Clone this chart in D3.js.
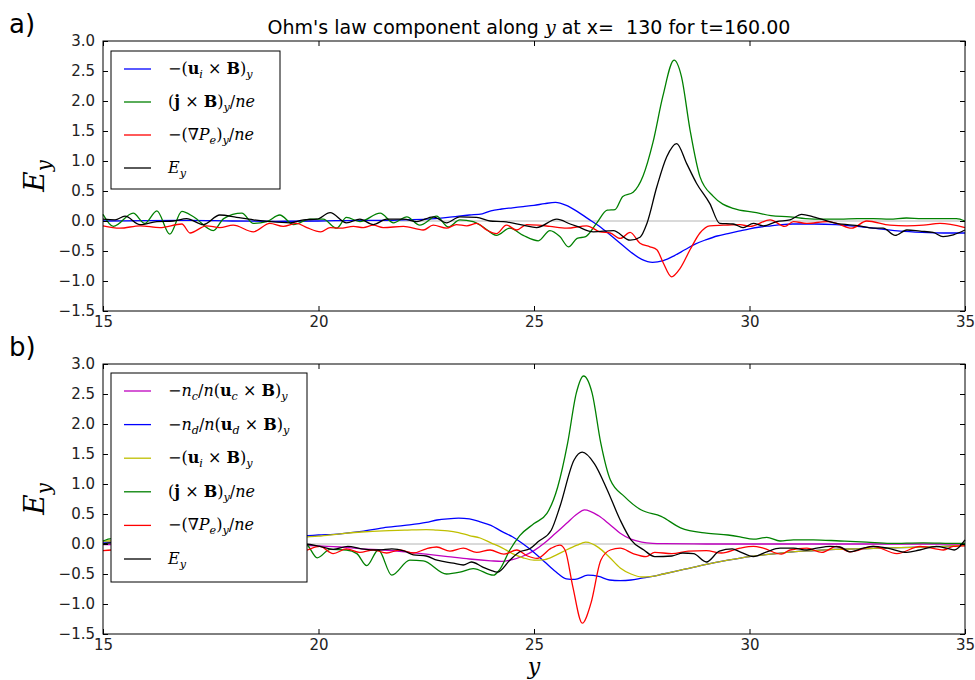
<!DOCTYPE html>
<html><head><meta charset="utf-8">
<script src="https://cdn.jsdelivr.net/npm/d3@7"></script>
<style>body{margin:0;background:#fff}svg{display:block}</style>
</head><body>
<svg id="chart" width="975" height="680"></svg>
<script>
// ---------------- data ----------------
const xDomain = [15, 35];
const yDomain = [-1.5, 3.0];
const xTicks = [15, 20, 25, 30, 35];
const yTicks = [-1.5, -1.0, -0.5, 0.0, 0.5, 1.0, 1.5, 2.0, 2.5, 3.0];
const panelTags = ["a)", "b)"];

// panel a : series as [y, E_y component]
const aUixB = [[15,0.0],[16,0.005],[17,0.01],[18,0.0],[19,-0.005],[20,0.0],[21,0.01],[21.5,0.01],[22,0.02],[22.5,0.03],[23,0.06],[23.5,0.1],[23.8,0.12],[24,0.17],[24.25,0.2],[24.5,0.22],[24.75,0.24],[25,0.26],[25.25,0.29],[25.5,0.31],[25.75,0.26],[26,0.16],[26.25,0.04],[26.5,-0.08],[26.75,-0.22],[27,-0.37],[27.25,-0.52],[27.5,-0.64],[27.75,-0.69],[28,-0.66],[28.25,-0.58],[28.5,-0.48],[28.75,-0.38],[29,-0.31],[29.25,-0.25],[29.5,-0.21],[29.75,-0.17],[30,-0.13],[30.25,-0.1],[30.5,-0.08],[30.75,-0.06],[31,-0.05],[31.5,-0.05],[32,-0.06],[32.5,-0.09],[33,-0.13],[33.5,-0.17],[34,-0.19],[34.5,-0.2],[35,-0.2]];
const aJxB = [[15,0.11],[15.24,-0.09],[15.7,0.13],[15.97,-0.04],[16.25,0.17],[16.55,-0.22],[16.83,0.16],[17.1,0.07],[17.56,-0.16],[17.8,0.04],[18.22,0.13],[18.49,-0.04],[18.8,-0.01],[19.1,0.1],[19.42,-0.06],[19.8,0.03],[20.11,0.03],[20.42,-0.12],[20.65,0.06],[20.96,-0.01],[21.43,0.13],[21.74,-0.03],[22.05,0.07],[22.35,-0.07],[22.74,0.08],[23.01,-0.1],[23.28,0.02],[23.59,-0.01],[23.82,-0.1],[24.13,-0.24],[24.44,-0.12],[24.75,-0.24],[25.1,-0.33],[25.37,-0.16],[25.6,-0.26],[25.8,-0.43],[26.0,-0.29],[26.2,-0.26],[26.45,-0.04],[26.7,0.18],[26.88,0.19],[27.06,0.41],[27.3,0.48],[27.53,0.75],[27.76,1.31],[27.99,2.08],[28.25,2.68],[28.42,2.41],[28.62,1.52],[28.85,0.74],[29.16,0.41],[29.62,0.21],[30.16,0.14],[30.5,0.09],[30.94,0.07],[31.3,0.04],[31.7,0.03],[32.1,0.03],[32.5,0.04],[32.87,0.04],[33.25,0.03],[33.64,0.05],[34.0,0.04],[34.4,0.04],[34.8,0.04],[35,0.0]];
const aGradP = [[15,-0.08],[15.39,-0.12],[15.86,-0.08],[16.32,-0.11],[16.83,-0.05],[17.02,-0.2],[17.4,-0.08],[17.71,-0.11],[18.02,-0.07],[18.49,-0.18],[18.87,-0.04],[19.18,-0.09],[19.49,-0.04],[19.73,-0.11],[20.05,-0.18],[20.27,-0.11],[20.5,-0.12],[20.81,-0.09],[21.04,-0.11],[21.27,-0.07],[21.5,-0.11],[21.97,-0.09],[22.43,-0.15],[22.66,-0.07],[22.97,-0.12],[23.2,-0.06],[23.44,-0.08],[23.67,-0.04],[23.9,-0.15],[24.13,-0.21],[24.36,-0.07],[24.6,-0.15],[24.83,-0.06],[25.1,-0.07],[25.37,-0.09],[25.76,-0.12],[26.22,-0.08],[26.53,-0.18],[26.77,-0.2],[27.0,-0.29],[27.23,-0.19],[27.46,-0.37],[27.69,-0.43],[27.85,-0.48],[28.0,-0.7],[28.19,-0.93],[28.39,-0.79],[28.62,-0.48],[28.85,-0.2],[29.08,-0.08],[29.39,-0.07],[29.78,-0.06],[30.01,-0.09],[30.48,0.02],[30.82,-0.09],[31.02,-0.01],[31.33,-0.04],[31.8,-0.01],[32.02,-0.04],[32.37,-0.12],[32.72,0.0],[33.26,-0.07],[33.65,-0.08],[34.03,-0.07],[34.42,-0.04],[35,-0.11]];
const aEy = [[15,0.03],[15.28,0.02],[15.51,0.08],[15.86,-0.06],[16.25,-0.01],[16.63,0.0],[16.94,0.04],[17.33,-0.06],[17.71,0.1],[18.1,0.06],[18.49,0.02],[18.87,-0.01],[19.34,-0.03],[19.65,0.02],[19.96,0.03],[20.27,0.14],[20.65,-0.03],[20.96,0.03],[21.27,-0.06],[21.58,0.03],[21.97,0.03],[22.28,-0.01],[22.66,0.07],[22.97,-0.03],[23.28,0.07],[23.67,0.06],[23.98,0.0],[24.29,-0.01],[24.75,-0.07],[25.06,-0.11],[25.53,0.03],[25.84,-0.05],[26.0,-0.09],[26.38,-0.18],[26.84,-0.16],[27.23,-0.32],[27.46,-0.27],[27.62,-0.04],[27.85,0.57],[28.08,1.07],[28.31,1.29],[28.54,0.96],[28.77,0.63],[29.08,0.29],[29.31,-0.04],[29.62,-0.05],[29.85,-0.11],[30.09,-0.04],[30.32,-0.08],[30.63,-0.01],[30.94,0.02],[31.21,0.11],[31.48,0.07],[32.02,-0.04],[32.56,-0.08],[32.87,-0.12],[33.1,-0.12],[33.38,-0.24],[33.65,-0.15],[33.96,-0.17],[34.26,-0.19],[34.49,-0.26],[34.73,-0.23],[35,-0.15]];

// panel b
const bNcUcB = [[15,-0.01],[16,-0.01],[17,-0.02],[18,-0.02],[19,-0.02],[20,-0.03],[20.5,-0.05],[21,-0.08],[21.5,-0.1],[22,-0.13],[22.5,-0.17],[23,-0.21],[23.5,-0.25],[24,-0.28],[24.25,-0.29],[24.5,-0.26],[24.75,-0.2],[25,-0.11],[25.25,0.02],[25.5,0.18],[25.75,0.34],[26,0.5],[26.17,0.57],[26.5,0.47],[26.75,0.33],[27,0.18],[27.25,0.08],[27.5,0.03],[27.75,0.01],[28,0.005],[29,0.0],[35,0.0]];
const bNdUdB = [[15,0.03],[16,0.04],[17,0.06],[18,0.08],[19,0.11],[19.75,0.14],[20,0.15],[20.5,0.17],[21,0.21],[21.5,0.27],[22,0.31],[22.5,0.36],[22.75,0.4],[23,0.42],[23.25,0.43],[23.5,0.42],[23.75,0.37],[24,0.31],[24.25,0.21],[24.5,0.12],[24.75,0.0],[25,-0.14],[25.25,-0.3],[25.5,-0.46],[25.75,-0.58],[25.95,-0.59],[26.25,-0.52],[26.5,-0.54],[26.75,-0.6],[27,-0.61],[27.25,-0.6],[27.5,-0.57],[27.75,-0.54],[28,-0.5],[28.5,-0.42],[29,-0.34],[29.5,-0.27],[30,-0.21],[30.5,-0.17],[31,-0.13],[31.5,-0.11],[32,-0.09],[32.5,-0.08],[33,-0.07],[33.5,-0.06],[34,-0.05],[34.5,-0.04],[35,-0.02]];
const bUiB = [[15,0.05],[16,0.06],[17,0.07],[18,0.08],[19,0.1],[19.75,0.12],[20,0.13],[20.5,0.17],[21,0.2],[21.5,0.22],[22,0.23],[22.5,0.24],[22.75,0.23],[23,0.22],[23.25,0.19],[23.5,0.14],[23.75,0.1],[24,0.02],[24.25,-0.06],[24.5,-0.16],[24.75,-0.23],[25,-0.27],[25.25,-0.26],[25.5,-0.19],[25.75,-0.1],[26,-0.02],[26.2,0.03],[26.5,-0.06],[26.75,-0.22],[27,-0.4],[27.25,-0.5],[27.5,-0.55],[27.75,-0.54],[28,-0.5],[28.5,-0.42],[29,-0.34],[29.5,-0.27],[30,-0.21],[30.5,-0.17],[31,-0.13],[31.5,-0.11],[32,-0.09],[32.5,-0.08],[33,-0.07],[33.5,-0.06],[34,-0.05],[34.5,-0.04],[35,-0.02]];
const bJxB = [[15,0.05],[15.2,0.09],[15.5,-0.03],[15.9,0.08],[16.4,-0.08],[16.9,0.05],[17.4,-0.06],[17.9,0.06],[18.4,-0.08],[18.9,0.04],[19.4,-0.04],[19.7,0.0],[19.97,-0.23],[20.27,-0.09],[20.65,-0.1],[20.89,-0.16],[21.12,-0.36],[21.39,-0.1],[21.7,-0.52],[22.12,-0.27],[22.43,-0.28],[22.97,-0.5],[23.28,-0.47],[23.59,-0.41],[24.06,-0.52],[24.2,-0.43],[24.44,-0.1],[24.67,0.14],[25.0,0.34],[25.3,0.51],[25.55,0.95],[25.78,1.68],[25.98,2.51],[26.15,2.8],[26.35,2.51],[26.55,1.68],[26.77,1.07],[27.1,0.79],[27.48,0.57],[27.95,0.46],[28.4,0.27],[29.0,0.18],[29.5,0.15],[29.78,0.12],[30.09,0.08],[30.4,0.11],[30.71,0.05],[31.02,0.07],[31.48,0.07],[32.1,0.05],[32.72,0.03],[33.26,0.01],[34.03,0.02],[34.81,0.01],[35,0.01]];
const bGradP = [[15,-0.11],[15.2,-0.1],[15.6,-0.14],[16.1,-0.08],[16.6,-0.13],[17.1,-0.09],[17.6,-0.14],[18.1,-0.08],[18.6,-0.13],[19.1,-0.09],[19.6,-0.12],[20.03,-0.04],[20.34,-0.16],[20.65,-0.08],[20.96,-0.14],[21.27,-0.1],[21.58,-0.15],[21.89,-0.1],[22.2,-0.15],[22.5,-0.08],[22.74,-0.05],[23.05,-0.12],[23.36,-0.07],[23.67,-0.14],[23.98,-0.1],[24.3,-0.17],[24.6,-0.1],[24.85,-0.2],[25.07,-0.24],[25.4,-0.07],[25.6,-0.02],[25.72,-0.1],[25.9,-0.71],[26.12,-1.32],[26.32,-0.99],[26.55,-0.27],[26.77,-0.1],[27.0,-0.07],[27.3,-0.16],[27.6,-0.21],[27.8,-0.14],[28.2,-0.16],[28.58,-0.12],[29.0,-0.11],[29.35,-0.15],[29.78,-0.07],[30.09,-0.04],[30.32,-0.07],[30.74,-0.17],[30.94,-0.1],[31.33,-0.07],[31.68,-0.14],[32.02,-0.04],[32.33,-0.13],[32.87,-0.04],[33.42,-0.16],[33.96,-0.04],[34.5,-0.1],[34.73,-0.04],[35,-0.03]];
const bEy = [[15,0.0],[15.2,0.02],[15.6,-0.03],[16.2,0.03],[16.8,-0.04],[17.4,0.02],[18.0,-0.05],[18.6,0.01],[19.2,-0.04],[19.7,0.0],[20.03,-0.04],[20.34,-0.09],[20.68,-0.04],[21.0,-0.08],[21.4,-0.1],[21.7,-0.08],[22.0,-0.12],[22.2,-0.18],[22.5,-0.2],[22.75,-0.27],[23.13,-0.32],[23.36,-0.35],[23.55,-0.3],[23.8,-0.38],[24.0,-0.44],[24.15,-0.47],[24.44,-0.27],[24.67,-0.13],[24.9,-0.08],[25.1,0.04],[25.4,0.23],[25.6,0.62],[25.93,1.4],[26.12,1.53],[26.4,1.34],[26.7,0.9],[27.0,0.4],[27.25,0.07],[27.55,-0.1],[27.8,-0.21],[28.2,-0.2],[28.45,-0.15],[28.7,-0.16],[29.0,-0.3],[29.3,-0.12],[29.6,-0.08],[29.78,-0.13],[30.09,-0.21],[30.4,-0.13],[30.71,-0.07],[31.02,-0.07],[31.33,-0.1],[31.56,-0.07],[31.87,-0.04],[32.1,-0.05],[32.33,-0.13],[32.64,-0.07],[32.87,-0.04],[33.2,-0.07],[33.65,-0.14],[33.95,-0.1],[34.34,-0.04],[34.57,-0.07],[34.75,-0.1],[35,0.07]];

// legend labels (math segments: r = roman, i = italic, b = bold, s = subscript)
const labelsA = [
  [["−(","r"],["u","b"],["i","s"],[" × ","r"],["B","b"],[")","r"],["y","s"]],
  [["(","r"],["j","b"],[" × ","r"],["B","b"],[")","r"],["y","s"],["/","r"],["ne","i"]],
  [["−(∇","r"],["P","i"],["e","s"],[")","r"],["y","s"],["/","r"],["ne","i"]],
  [["E","i"],["y","s"]]
];
const labelsB = [
  [["−","r"],["n","i"],["c","s"],["/","r"],["n","i"],["(","r"],["u","b"],["c","s"],[" × ","r"],["B","b"],[")","r"],["y","s"]],
  [["−","r"],["n","i"],["d","s"],["/","r"],["n","i"],["(","r"],["u","b"],["d","s"],[" × ","r"],["B","b"],[")","r"],["y","s"]],
  labelsA[0], labelsA[1], labelsA[2], labelsA[3]
];
const colorsA = ["#0000ff", "#008000", "#ff0000", "#000000"];
const colorsB = ["#bf00bf", "#0000ff", "#bfbf00", "#008000", "#ff0000", "#000000"];
const seriesA = [aUixB, aJxB, aGradP, aEy];
const seriesB = [bNcUcB, bNdUdB, bUiB, bJxB, bGradP, bEy];

// ---------------- drawing ----------------
const SANS = "'DejaVu Sans', sans-serif";
const SERIF = "'DejaVu Serif', serif";
const svg = d3.select("#chart");
svg.append("rect").attr("width", 975).attr("height", 680).attr("fill", "#fff");

const L = 103, R = 965;
const x = d3.scaleLinear().domain(xDomain).range([L, R]);

function mathText(sel, px, py, parts, size) {
  const t = sel.append("text").attr("x", px).attr("y", py)
    .attr("font-family", SERIF).attr("font-size", size)
    .style("white-space", "pre");
  let shift = 0;
  parts.forEach(([s, k]) => {
    const sp = t.append("tspan").text(s);
    const want = k === "s" ? size * 0.25 : 0;
    if (want !== shift) { sp.attr("dy", want - shift); shift = want; }
    if (k === "s") sp.attr("font-size", size * 0.7).attr("font-style", "italic");
    else if (k === "i") sp.attr("font-style", "italic");
    else if (k === "b") sp.attr("font-weight", "bold");
  });
  return t;
}

function panel(top, series, colors, labels, legendBox, tag) {
  const bottom = top + 270;
  const y = d3.scaleLinear().domain(yDomain).range([bottom, top]);
  const g = svg.append("g");

  // zero reference line
  g.append("line").attr("x1", L).attr("x2", R).attr("y1", y(0)).attr("y2", y(0))
    .attr("stroke", "#b4b4b4").attr("stroke-width", 1);

  const line = d3.line().x(d => x(d[0])).y(d => y(d[1])).curve(d3.curveMonotoneX);
  series.forEach((s, i) => {
    g.append("path").datum(s).attr("d", line).attr("fill", "none")
      .attr("stroke", colors[i]).attr("stroke-width", 1.3).attr("stroke-linejoin", "round");
  });

  // axes (ticks pointing inward, on all four sides)
  const styleAxis = sel => {
    sel.select(".domain").remove();
    sel.selectAll(".tick line").attr("stroke", "#000");
    sel.selectAll(".tick text").attr("font-family", SANS).attr("font-size", 15).attr("fill", "#222");
  };
  g.append("g").attr("transform", `translate(0,${bottom})`)
    .call(d3.axisBottom(x).tickValues(xTicks).tickFormat(d3.format("d")).tickSizeInner(-5).tickSizeOuter(0).tickPadding(5))
    .call(styleAxis);
  g.append("g").attr("transform", `translate(0,${top})`)
    .call(d3.axisTop(x).tickValues(xTicks).tickFormat(() => "").tickSizeInner(-5).tickSizeOuter(0))
    .call(styleAxis);
  g.append("g").attr("transform", `translate(${L},0)`)
    .call(d3.axisLeft(y).tickValues(yTicks).tickFormat(d3.format(".1f")).tickSizeInner(-5).tickSizeOuter(0).tickPadding(8))
    .call(styleAxis);
  g.append("g").attr("transform", `translate(${R},0)`)
    .call(d3.axisRight(y).tickValues(yTicks).tickFormat(() => "").tickSizeInner(-5).tickSizeOuter(0))
    .call(styleAxis);

  g.append("rect").attr("x", L).attr("y", top).attr("width", R - L).attr("height", bottom - top)
    .attr("fill", "none").attr("stroke", "#000").attr("stroke-width", 1);

  // legend
  const [lx, ly, lw, lh, step] = legendBox;
  const lg = g.append("g");
  lg.append("rect").attr("x", lx).attr("y", ly).attr("width", lw).attr("height", lh)
    .attr("fill", "#fff").attr("stroke", "#000").attr("stroke-width", 1);
  labels.forEach((lab, i) => {
    const cy = ly + 18 + i * step;
    lg.append("line").attr("x1", lx + 13).attr("x2", lx + 40).attr("y1", cy).attr("y2", cy)
      .attr("stroke", colors[i]).attr("stroke-width", 1.3);
    mathText(lg, lx + 57, cy + 5, lab, 16);
  });

  // y label
  const yl = mathText(g, 0, 0, [["E", "i"], ["y", "s"]], 28);
  yl.attr("text-anchor", "middle").attr("transform", `translate(44,${(top + bottom) / 2}) rotate(-90)`);

  // panel tag
  g.append("text").attr("x", 9).attr("y", top - 8).attr("font-family", SANS).attr("font-size", 26)
    .attr("fill", "#000").text(tag);
  return y;
}

panel(41, seriesA, colorsA, labelsA, [111, 51, 169, 138, 33], panelTags[0]);
panel(364, seriesB, colorsB, labelsB, [111, 373, 196, 209, 33.6], panelTags[1]);

// title
const title = svg.append("text").attr("x", 529).attr("y", 34).attr("text-anchor", "middle")
  .attr("font-family", SANS).attr("font-size", 19).attr("fill", "#000").style("white-space", "pre");
title.append("tspan").text("Ohm's law component along ");
title.append("tspan").attr("font-family", SERIF).attr("font-style", "italic").text("y");
title.append("tspan").text(" at x=  130 for t=160.00");

// x label
svg.append("text").attr("x", (L + R) / 2).attr("y", 674).attr("text-anchor", "middle")
  .attr("font-family", SERIF).attr("font-style", "italic").attr("font-size", 22).text("y");
</script>
</body></html>
